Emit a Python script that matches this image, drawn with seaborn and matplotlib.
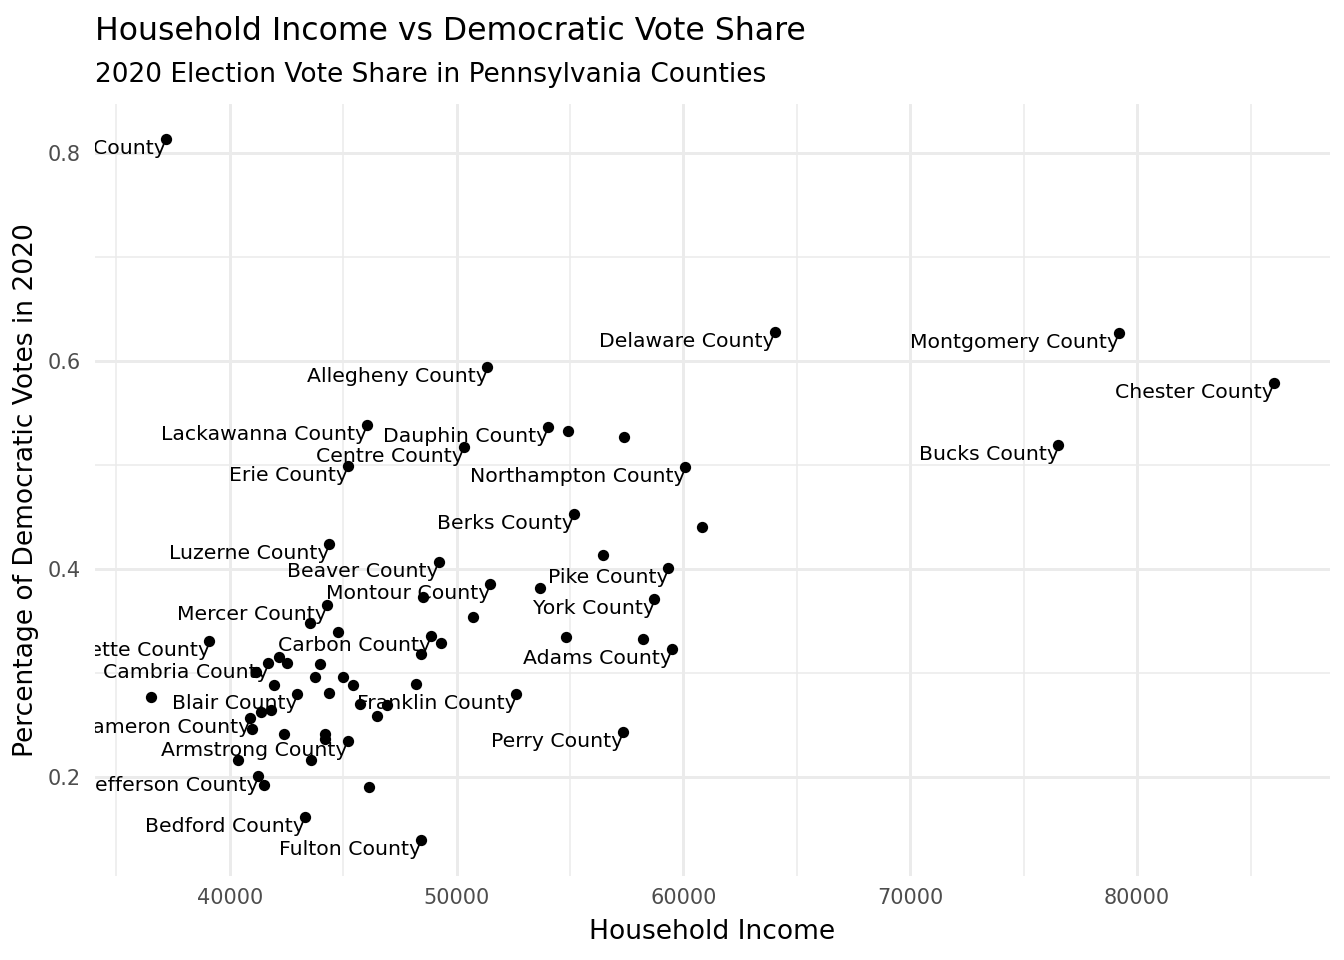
import pandas as pd
import matplotlib
matplotlib.use("Agg")
import matplotlib.pyplot as plt
from matplotlib.ticker import MultipleLocator
import seaborn as sns

# household income and democratic vote share, one entry per county
# (empty name = label hidden because it overlapped in the original)
county = [
    "Philadelphia County", "Delaware County", "Montgomery County", "Chester County",
    "Allegheny County", "Lackawanna County", "Dauphin County", "", "",
    "Centre County", "Bucks County", "Erie County", "Northampton County",
    "Berks County", "", "Luzerne County", "", "Beaver County", "Pike County",
    "Montour County", "", "", "York County", "Mercer County", "", "", "",
    "Carbon County", "", "", "", "Fayette County", "Adams County", "", "",
    "Cambria County", "", "", "", "", "", "", "", "", "", "Blair County",
    "Franklin County", "", "", "", "", "", "", "Cameron County", "", "", "",
    "", "Armstrong County", "Perry County", "", "", "Jefferson County", "", "",
    "Bedford County", "Fulton County",
]
income = [
    37195, 64018, 79192, 86029,
    51354, 46030, 54045, 54909, 57397,
    50322, 76532, 45192, 60070,
    55161, 60807, 44385, 56471, 49206, 59320,
    51469, 53674, 48513, 58720, 44265, 50706, 43516, 44782,
    48884, 54808, 58217, 49294, 39105, 59483, 48443, 42161,
    41694, 42501, 43970, 41165, 43736, 45002, 41941, 45412, 48222, 44354, 42973,
    52624, 36533, 45734, 46912, 41826, 41398, 46484, 40913, 41001, 42369, 44177,
    44177, 45205, 57353, 40371, 43560, 41253, 41517, 46149,
    43295, 48443,
]
dem_share = [
    0.8135, 0.6279, 0.6269, 0.5788,
    0.5942, 0.5379, 0.5365, 0.5327, 0.5263,
    0.5173, 0.5187, 0.4990, 0.4975,
    0.4529, 0.4404, 0.4240, 0.4129, 0.4062, 0.4010,
    0.3853, 0.3817, 0.3731, 0.3712, 0.3648, 0.3533, 0.3481, 0.3394,
    0.3353, 0.3346, 0.3324, 0.3288, 0.3308, 0.3225, 0.3180, 0.3148,
    0.3096, 0.3096, 0.3084, 0.3010, 0.2956, 0.2956, 0.2882, 0.2882, 0.2888, 0.2802, 0.2795,
    0.2795, 0.2769, 0.2696, 0.2689, 0.2641, 0.2625, 0.2585, 0.2567, 0.2458, 0.2410, 0.2410,
    0.2362, 0.2346, 0.2433, 0.2163, 0.2161, 0.2007, 0.1920, 0.1898,
    0.1606, 0.1385,
]

df = pd.DataFrame({"county": county, "income": income, "dem_share": dem_share})

sns.set_theme(style="white")
plt.rcParams["font.family"] = ["DejaVu Sans"]

W, H = 1344, 960
fig = plt.figure(figsize=(W / 100, H / 100), dpi=100)
ax = fig.add_axes([95 / W, 1 - 875.5 / H, (1330 - 95) / W, (875.5 - 104) / H])

sns.scatterplot(data=df, x="income", y="dem_share", color="black", s=66,
                linewidth=0, ax=ax, zorder=3)

for _, row in df.iterrows():
    if row["county"]:
        ax.text(row["income"], row["dem_share"], row["county"], ha="right", va="top",
                fontsize=14.7, color="black", clip_on=True, zorder=4)

# ggplot-style 5% expansion
xr = df["income"].max() - df["income"].min()
yr = df["dem_share"].max() - df["dem_share"].min()
ax.set_xlim(df["income"].min() - 0.05 * xr, df["income"].max() + 0.05 * xr)
ax.set_ylim(df["dem_share"].min() - 0.05 * yr, df["dem_share"].max() + 0.05 * yr)

ax.xaxis.set_major_locator(MultipleLocator(10000))
ax.xaxis.set_minor_locator(MultipleLocator(5000))
ax.yaxis.set_major_locator(MultipleLocator(0.2))
ax.yaxis.set_minor_locator(MultipleLocator(0.1))
ax.ticklabel_format(axis="x", style="plain", useOffset=False)
ax.grid(which="major", color="#EBEBEB", linewidth=2.1)
ax.grid(which="minor", color="#EBEBEB", linewidth=1.1)
ax.set_axisbelow(True)
ax.spines[["top", "right", "left", "bottom"]].set_visible(False)
ax.tick_params(which="both", length=0, labelsize=15, labelcolor="#4D4D4D")
ax.tick_params(axis="x", pad=9)
ax.tick_params(axis="y", pad=10)
ax.set_xlabel("")
ax.set_ylabel("")

fig.text(712.5 / W, 1 - 939.3 / H, "Household Income", ha="center", va="baseline",
         fontsize=19.1, color="black")
fig.text(26 / W, 1 - 489.8 / H, "Percentage of Democratic Votes in 2020", ha="center",
         va="center", rotation=90, fontsize=19.1, color="black")
fig.text(95 / W, 1 - 40 / H, "Household Income vs Democratic Vote Share", ha="left",
         va="baseline", fontsize=22.7, color="black")
fig.text(95 / W, 1 - 81.7 / H, "2020 Election Vote Share in Pennsylvania Counties",
         ha="left", va="baseline", fontsize=19, color="black")

fig.savefig("out.png", dpi=100)
